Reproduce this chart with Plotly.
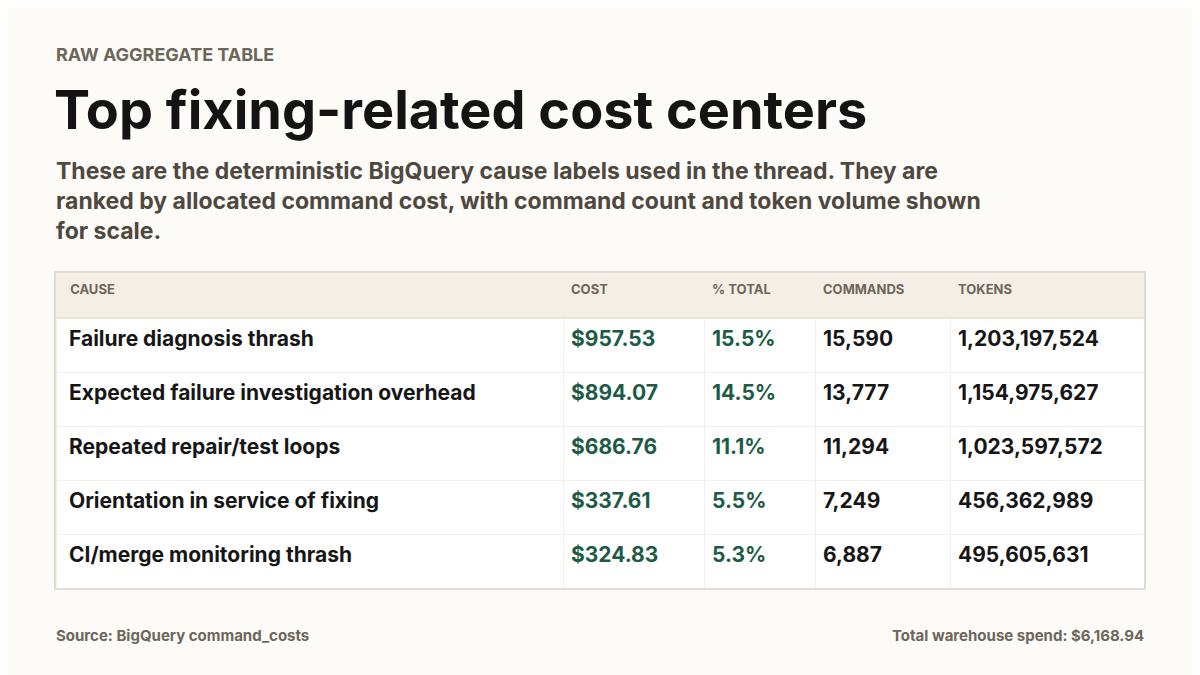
import plotly.graph_objects as go

causes = ["Failure diagnosis thrash", "Expected failure investigation overhead",
          "Repeated repair/test loops", "Orientation in service of fixing",
          "CI/merge monitoring thrash"]
costs = ["$957.53", "$894.07", "$686.76", "$337.61", "$324.83"]
pcts = ["15.5%", "14.5%", "11.1%", "5.5%", "5.3%"]
commands = ["15,590", "13,777", "11,294", "7,249", "6,887"]
tokens = ["1,203,197,524", "1,154,975,627", "1,023,597,572", "456,362,989", "495,605,631"]
headers = ["CAUSE", "COST", "% TOTAL", "COMMANDS", "TOKENS"]

W, H = 1200, 675
OX, OY = 8, 8  # page offset compensation
bg = "#fcfbf7"
FONT = "Inter"

def X(px):
    return (px - OX) / W

def Y(py):
    return 1 - (py - OY) / H

def b(lst):
    return ["<b>" + v + "</b>" for v in lst]

fig = go.Figure(go.Table(
    domain=dict(x=[X(56), X(1144)], y=[Y(588), Y(273)]),
    columnwidth=[507, 141, 111, 135, 194],
    header=dict(values=["<b>  " + h + "</b>" if i == 0 else "<b>" + h + "</b>" for i, h in enumerate(headers)],
                fill_color="#f3efe7", line_color="#f3efe7",
                font=dict(family=FONT, size=13, color="#6e665a"),
                align="left", height=45),
    cells=dict(values=[b([" " + c for c in causes]), b(costs), b(pcts), b(commands), b(tokens)],
               fill_color="#ffffff", line_color="#f3f0ea",
               font=dict(family=FONT, size=21,
                         color=["#161616", "#1d5b47", "#1d5b47", "#161616", "#161616"]),
               align="left", height=54),
))

fig.update_layout(width=W, height=H, paper_bgcolor=bg, plot_bgcolor=bg,
                  margin=dict(l=0, r=0, t=0, b=0), showlegend=False)

fig.add_shape(type="rect", xref="paper", yref="paper", x0=X(55), x1=X(1145),
              y0=Y(589), y1=Y(272), line=dict(color="#d9d3c8", width=1.5),
              fillcolor="rgba(0,0,0,0)", layer="above")
fig.add_shape(type="line", xref="paper", yref="paper", x0=X(55), x1=X(1145),
              y0=Y(318), y1=Y(318), line=dict(color="#e3ddd2", width=1), layer="above")

def txt(x, y, s, size, color, anchor="left"):
    fig.add_annotation(x=X(x), y=Y(y), xref="paper", yref="paper", text=s,
                       showarrow=False, xanchor=anchor, yanchor="middle", align="left",
                       font=dict(family=FONT, size=size, color=color))

txt(54, 54, "<b>RAW AGGREGATE TABLE</b>", 18, "#6e665a")
txt(52, 110, "<b>Top fixing-related cost centers</b>", 54, "#141414")
fig.add_annotation(x=X(54), y=Y(155), xref="paper", yref="paper", showarrow=False,
                   xanchor="left", yanchor="top", align="left",
                   text="<b>These are the deterministic BigQuery cause labels used in the thread. They are<br>"
                        "ranked by allocated command cost, with command count and token volume shown<br>"
                        "for scale.</b>",
                   font=dict(family=FONT, size=23, color="#4f483f"))
txt(54, 635, "<b>Source: BigQuery command_costs</b>", 15, "#6e665a")
txt(1146, 635, "<b>Total warehouse spend: $6,168.94</b>", 15, "#6e665a", anchor="right")

fig.write_html("out.html")
